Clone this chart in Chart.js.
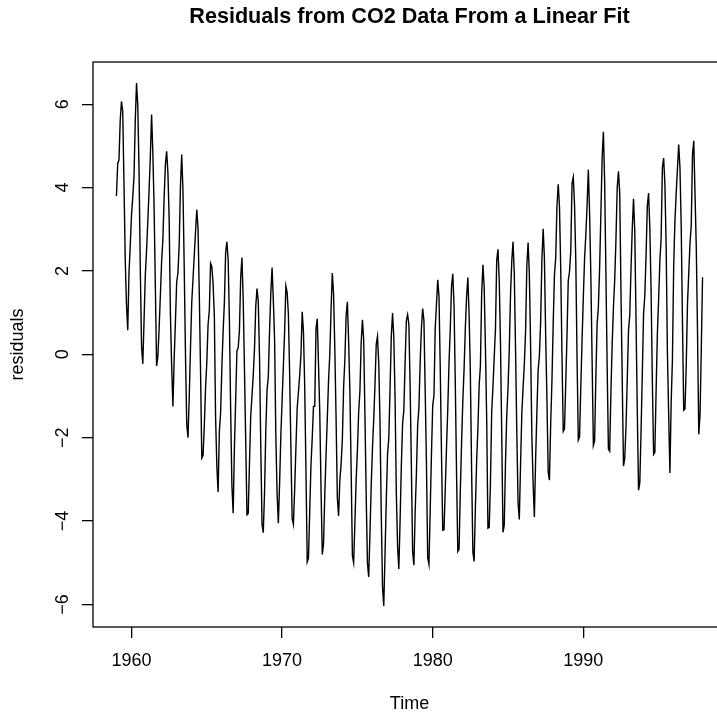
<!DOCTYPE html>
<html>
<head>
<meta charset="utf-8">
<script src="https://cdn.jsdelivr.net/npm/chart.js@4.4.1/dist/chart.umd.min.js"></script>
<style>
	html, body { margin: 0; padding: 0; background: #fff; overflow: hidden; }
	canvas { display: block; }
</style>
</head>
<body>
<canvas id="chart" width="819" height="715"></canvas>
<script>
// monthly series starting Jan 1959
const startYear = 1959;
const residuals = [
	3.80, 4.58, 4.66, 5.61, 6.07, 5.83, 4.11, 2.27, 1.19, 0.58, 1.95, 2.61,
	3.34, 3.77, 4.27, 5.61, 6.51, 5.96, 4.43, 2.05, 0.20, -0.23, 0.82, 1.90,
	2.49, 3.20, 3.93, 4.75, 5.75, 4.83, 3.53, 1.63, -0.28, -0.06, 0.62, 1.42,
	2.24, 2.75, 3.77, 4.55, 4.87, 4.36, 3.25, 0.95, -0.30, -1.25, -0.10, 0.79,
	1.73, 1.96, 2.63, 4.04, 4.79, 3.92, 2.08, 0.00, -1.67, -2.00, -1.03, 0.15,
	1.25, 1.80, 2.37, 2.92, 3.47, 3.03, 1.46, -0.38, -2.49, -2.43, -1.72, -0.81,
	-0.19, 0.71, 1.05, 2.18, 2.10, 1.70, 0.93, -1.52, -2.68, -3.30, -1.85, -1.41,
	-0.31, 0.55, 1.24, 2.44, 2.70, 2.27, 0.82, -1.33, -3.16, -3.81, -2.23, -1.10,
	0.09, 0.15, 0.58, 1.85, 2.32, 1.31, -0.35, -2.08, -3.85, -3.82, -2.61, -1.48,
	-0.99, -0.50, 0.13, 1.15, 1.58, 1.27, -0.06, -2.20, -4.08, -4.28, -3.31, -1.84,
	-0.86, -0.54, 0.56, 1.48, 2.08, 1.30, 0.37, -1.95, -3.34, -4.05, -3.09, -1.94,
	-1.11, -0.29, 0.55, 1.64, 1.48, 0.96, -0.47, -2.23, -3.94, -4.08, -3.24, -2.24,
	-1.30, -0.91, -0.51, -0.01, 1.02, 0.55, -0.76, -2.80, -4.98, -4.89, -3.77, -2.65,
	-2.01, -1.25, -1.25, 0.62, 0.85, -0.24, -1.39, -3.22, -4.80, -4.55, -3.36, -2.42,
	-1.55, -0.63, 0.00, 1.08, 1.95, 1.44, 0.13, -1.53, -3.44, -3.88, -3.02, -2.64,
	-2.05, -0.79, -0.13, 0.93, 1.26, 0.31, -0.87, -2.76, -4.83, -5.00, -4.03, -3.02,
	-2.30, -1.39, -0.88, 0.28, 0.83, 0.35, -1.46, -3.40, -5.01, -5.34, -4.30, -3.14,
	-2.26, -1.56, -0.73, 0.24, 0.43, -0.22, -1.61, -3.83, -5.57, -6.04, -4.79, -3.52,
	-2.40, -2.02, -0.84, 0.43, 0.99, 0.41, -1.04, -3.32, -4.60, -5.15, -4.00, -2.67,
	-1.66, -1.34, -0.20, 0.81, 0.95, 0.72, -0.74, -2.71, -4.73, -5.06, -3.79, -2.87,
	-1.71, -1.28, -0.19, 0.62, 1.10, 0.81, -0.86, -2.60, -4.88, -5.04, -3.73, -2.40,
	-1.23, -0.99, 0.62, 1.20, 1.79, 1.39, -0.33, -2.40, -4.22, -4.21, -3.23, -2.23,
	-1.32, -0.19, 0.62, 1.63, 1.93, 1.16, -0.71, -2.88, -4.73, -4.68, -3.28, -2.13,
	-1.11, -0.35, 0.63, 1.38, 1.84, 0.95, -0.46, -2.80, -4.74, -4.97, -3.68, -2.56,
	-1.79, -0.75, -0.28, 1.45, 2.15, 1.61, 0.17, -1.54, -4.17, -4.15, -3.10, -1.37,
	-0.78, -0.08, 0.60, 2.26, 2.52, 1.78, 0.27, -1.95, -4.27, -4.10, -2.59, -1.46,
	-0.81, 0.11, 1.43, 2.24, 2.70, 1.92, 0.12, -1.86, -3.56, -3.96, -2.63, -1.42,
	-0.80, -0.24, 0.55, 2.13, 2.68, 1.91, 0.20, -1.94, -3.10, -3.90, -2.52, -1.39,
	-0.38, -0.04, 0.79, 2.26, 3.01, 2.31, 0.46, -1.06, -2.82, -3.02, -1.67, -0.64,
	0.73, 1.91, 2.31, 3.56, 4.08, 3.55, 2.04, -0.02, -1.85, -1.79, -0.70, 0.46,
	1.77, 1.98, 2.48, 4.10, 4.25, 3.59, 2.26, -0.07, -2.06, -1.98, -0.78, 0.34,
	1.36, 2.30, 2.87, 3.57, 4.43, 3.39, 1.88, -0.14, -2.19, -2.08, -0.54, 0.73,
	1.14, 2.08, 3.37, 4.71, 5.34, 4.13, 1.96, -0.29, -2.27, -2.32, -0.90, 0.25,
	1.13, 1.77, 2.75, 3.99, 4.39, 3.87, 1.53, -0.60, -2.68, -2.50, -1.75, -0.62,
	0.57, 0.93, 2.04, 3.02, 3.73, 2.95, 0.82, -1.34, -3.26, -3.09, -1.85, -0.48,
	0.97, 1.41, 2.37, 3.56, 3.87, 3.03, 1.53, -0.64, -2.40, -2.35, -0.87, 0.49,
	1.31, 2.25, 2.77, 4.48, 4.71, 4.08, 2.61, 0.06, -1.44, -2.85, -1.15, -0.13,
	2.11, 3.20, 3.86, 4.45, 5.03, 4.48, 3.07, 0.80, -1.34, -1.31, -0.27, 1.20,
	1.94, 2.66, 3.10, 4.79, 5.12, 3.85, 2.58, 0.52, -1.92, -1.44, 0.11, 1.85,
];
const xTicks = [1960, 1970, 1980, 1990];
const yTicks = [-6, -4, -2, 0, 2, 4, 6];

const points = residuals.map((v, i) => ({ x: startYear + i / 12, y: v }));

const FONT = "'Liberation Sans', Arial, Helvetica, sans-serif";

// R-style frame round the plot region
const boxPlugin = {
	id: "box",
	afterDatasetsDraw(chart) {
		const { ctx, chartArea: a } = chart;
		ctx.save();
		ctx.strokeStyle = "#000";
		ctx.lineWidth = 1.3;
		ctx.strokeRect(a.left, a.top, a.right - a.left, a.bottom - a.top);
		ctx.restore();
	},
};

const minus = (v) => String(v).replace("-", "\u2212");

new Chart(document.getElementById("chart"), {
	type: "line",
	data: {
		datasets: [
			{
				data: points,
				borderColor: "#000",
				borderWidth: 1.4,
				pointRadius: 0,
				tension: 0,
				fill: false,
			},
		],
	},
	options: {
		responsive: false,
		animation: false,
		devicePixelRatio: 1,
		layout: { padding: { left: 0, right: 93, top: 0, bottom: 0 } },
		plugins: {
			legend: { display: false },
			tooltip: { enabled: false },
			title: {
				display: true,
				fullSize: false,
				text: "Residuals from CO2 Data From a Linear Fit",
				color: "#000",
				font: { family: FONT, size: 21.6, weight: "bold", lineHeight: 1.2 },
				padding: { top: 4.5, bottom: 31.6 },
			},
		},
		scales: {
			x: {
				type: "linear",
				min: 1957.443,
				max: 1999.474,
				afterBuildTicks: (s) => { s.ticks = xTicks.map((v) => ({ value: v })); },
				afterFit: (s) => { s.height = 88; },
				border: { display: false },
				grid: { drawOnChartArea: false, drawTicks: true, tickLength: 11, color: "#000", lineWidth: 1.3 },
				ticks: {
					color: "#000",
					font: { family: FONT, size: 18 },
					padding: 12,
					maxRotation: 0,
					autoSkip: false,
					callback: (v) => String(v),
				},
				title: {
					display: true,
					text: "Time",
					color: "#000",
					font: { family: FONT, size: 18 },
					padding: { top: 0, bottom: 0 },
				},
			},
			y: {
				type: "linear",
				min: -6.542,
				max: 7.012,
				afterBuildTicks: (s) => { s.ticks = yTicks.map((v) => ({ value: v })); },
				afterFit: (s) => { s.width = 93; },
				border: { display: false },
				grid: { drawOnChartArea: false, drawTicks: true, tickLength: 11, color: "#000", lineWidth: 1.3 },
				ticks: {
					color: "#000",
					font: { family: FONT, size: 18 },
					padding: 9,
					minRotation: 90,
					maxRotation: 90,
					crossAlign: "center",
					autoSkip: false,
					callback: (v) => minus(v),
				},
				title: {
					display: true,
					text: "residuals",
					color: "#000",
					font: { family: FONT, size: 18 },
					padding: { top: 7.7, bottom: 0 },
				},
			},
		},
	},
	plugins: [boxPlugin],
});
</script>
</body>
</html>
